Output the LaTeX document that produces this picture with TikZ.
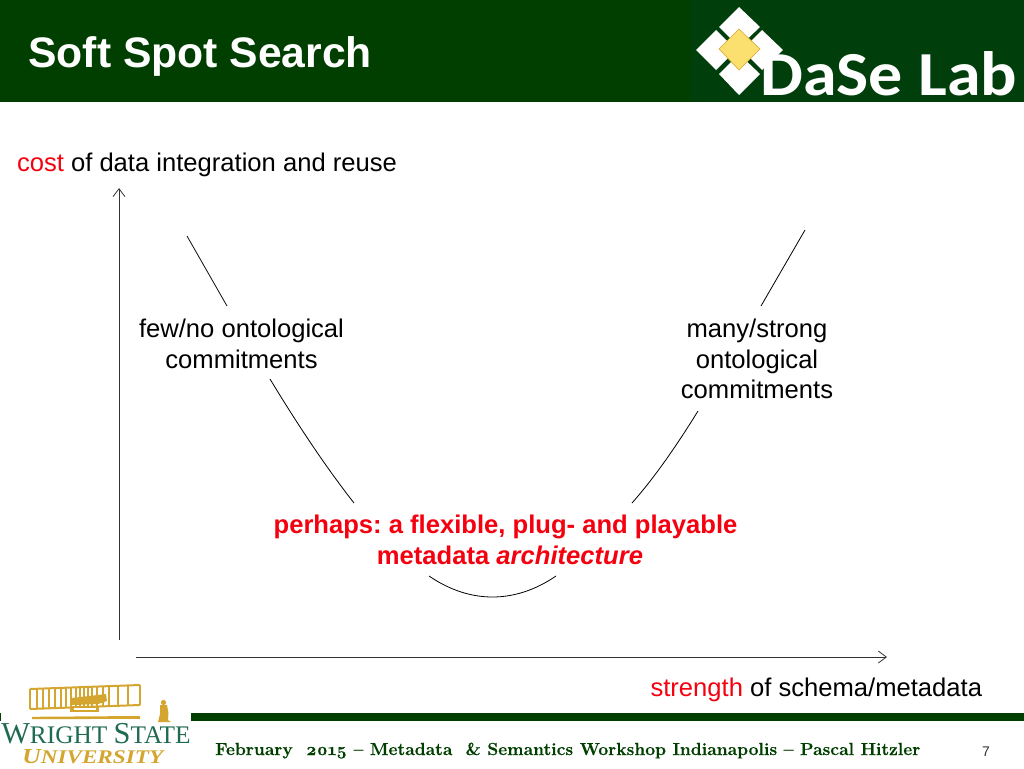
\documentclass[tikz,border=0pt]{standalone}
\usepackage{fontspec}
\setmainfont{Liberation Sans}
\newfontfamily\logofont{Carlito}
\newfontfamily\wsufont{Liberation Serif}
\newfontfamily\footfont[BoldFeatures={FakeBold=0.4}]{Latin Modern Roman}
\usetikzlibrary{arrows.meta}
\definecolor{bandgreen}{HTML}{003F00}
\definecolor{logogreen}{HTML}{003F0C}
\definecolor{wsugreen}{HTML}{1F6B50}
\definecolor{wsugold}{HTML}{D4A62F}
\definecolor{diamondgold}{HTML}{FBDF6F}
\definecolor{alertred}{HTML}{F5000F}
\tikzset{
  body/.style={inner sep=0pt,outer sep=0pt,font=\fontsize{19.2}{19.2}\selectfont,anchor=base,text=black},
  callout/.style={inner sep=0pt,outer sep=0pt,font=\fontsize{19.2}{19.2}\selectfont\bfseries,anchor=base,text=alertred},
  curveline/.style={line width=0.6pt,black},
  axisline/.style={line width=0.75pt,black!80,-{Straight Barb[length=6pt,width=9pt,line width=0.6pt]}},
  whitediamond/.style={fill=white,draw=none},
  plane/.style={draw=wsugold,line width=1.5pt},
  planethin/.style={draw=wsugold,line width=0.8pt},
}
\newcommand{\alertw}[1]{\textcolor{alertred}{#1}}
\frenchspacing
\begin{document}
\begin{tikzpicture}[x=0.75pt,y=-0.75pt]
\useasboundingbox (0,0) rectangle (1024,768);
\fill[white] (0,0) rectangle (1024,768);
% header band
\fill[bandgreen] (0,0) rectangle (1024,102);
\fill[logogreen] (691,0) rectangle (1024,102);
\node[anchor=base west,inner sep=0pt,text=white,font=\fontsize{32}{32}\selectfont\bfseries] (title) at (28,67) {Soft Spot Search};
% DaSe logo
\fill[whitediamond] (739,7) -- (760,27) -- (739,47) -- (719,27) -- cycle;
\fill[whitediamond] (716,30) -- (736,50) -- (716,70) -- (696,50) -- cycle;
\fill[whitediamond] (762,30) -- (783,50) -- (762,70) -- (742,50) -- cycle;
\fill[whitediamond] (739,54) -- (760,74) -- (739,95) -- (719,74) -- cycle;
\filldraw[fill=diamondgold,draw=wsugold,line width=0.4pt] (739,29) -- (760,49) -- (739,70) -- (719,49) -- cycle;
\node[anchor=base west,inner sep=0pt,text=white,font=\fontsize{47}{47}\selectfont\logofont\bfseries] (lab) at (760,95) {\scalebox{1.085}[1]{DaSe Lab}};
% axis labels
\node[body,anchor=base west] (costlabel) at (17,171) {\alertw{cost} of data integration and reuse};
\node[body,anchor=base west] (strengthlabel) at (650.5,696) {\alertw{strength} of schema/metadata};
% axes
\coordinate (yfrom) at (119,640);
\coordinate (yto) at (119,188);
\coordinate (xfrom) at (136,657);
\coordinate (xto) at (887,657);
\draw[axisline] (yfrom) -- (yto);
\draw[axisline] (xfrom) -- (xto);
% labels
\node[body] (few1) at (241.5,337) {few/no ontological};
\node[body] (few2) at (241.5,368) {commitments};
\node[body] (many1) at (757,337) {many/strong};
\node[body] (many2) at (757,368) {ontological};
\node[body] (many3) at (757,398) {commitments};
\node[callout] (perhaps1) at (505.5,533) {perhaps: a flexible, plug- and playable};
\node[callout] (perhaps2) at (510,564) {metadata \textit{architecture}};
% curve
\coordinate (a1) at (187,236);
\coordinate (a2) at (227,306);
\coordinate (b1) at (270,379);
\coordinate (b2) at (354,503);
\coordinate (c1) at (429,576);
\coordinate (c2) at (556,576);
\coordinate (d1) at (632,503);
\coordinate (d2) at (698,411);
\coordinate (e1) at (761,306);
\coordinate (e2) at (805,230);
\draw[curveline] (a1) -- (a2);
\draw[curveline] (b1) .. controls (296,422) and (325,466) .. (b2);
\draw[curveline] (c1) .. controls (470,604) and (515,604) .. (c2);
\draw[curveline] (d1) .. controls (655,477) and (677,445) .. (d2);
\draw[curveline] (e1) -- (e2);
% footer
\fill[bandgreen] (191,713) rectangle (1024,721);
\fill[bandgreen] (0,713) rectangle (1,721);
\node[anchor=base west,inner sep=0pt,text=bandgreen,font=\fontsize{13.1}{13.1}\selectfont\footfont\bfseries] (foot) at (215,755) {February\ \ \oldstylenums{2015} – Metadata\ \ \& Semantics Workshop Indianapolis – Pascal Hitzler};
\node[inner sep=0pt,anchor=base,text=black!80,font=\fontsize{10.5}{10.5}\selectfont] (page) at (986,756) {7};
% Wright State logo: plane
\draw[plane] (30,689) -- (140,685) (30,709) -- (140,705);
\draw[plane] (30,689) -- (30,709) (140,685) -- (140,705);
\foreach \px in {37,43,49,55,61,66,71,76,80,84,88,92,97,103,109,118,128} {
  \pgfmathsetmacro{\pa}{689-(\px-30)*4/110}
  \pgfmathsetmacro{\pb}{709-(\px-30)*4/110}
  \draw[planethin] (\px,\pa) -- (\px,\pb);
}
\fill[wsugold] (72,698) -- (106,694) -- (107,701) -- (98,704) -- (72,705) -- cycle;
\fill[wsugold] (70,706) rectangle (99,711.5);
\fill[white] (74,708) rectangle (96,710);
\fill[wsugold] (32,716.8) -- (140,716) -- (140,718.8) -- (32,719.2) -- cycle;
\fill[wsugold] (163.5,702.5) circle (2.6);
\fill[wsugold] (160,705) -- (167,705) -- (168.5,713) -- (168,720) -- (171,722) -- (158,722) -- (160,714) -- cycle;
\node[anchor=base west,inner sep=0pt,text=wsugreen,font=\fontsize{22.8}{22.8}\selectfont\wsufont] (wsu) at (1,743.5) {W\fontsize{19}{19}\selectfont RIGHT\ \fontsize{22.8}{22.8}\selectfont S\fontsize{19}{19}\selectfont TATE};
\node[anchor=base west,inner sep=0pt,text=wsugold,font=\fontsize{16}{16}\selectfont\wsufont\itshape\bfseries] (univ) at (22,763) {\scalebox{1.2}[1]{U\fontsize{14.5}{14.5}\selectfont NIVERSITY}};
\end{tikzpicture}
\end{document}
